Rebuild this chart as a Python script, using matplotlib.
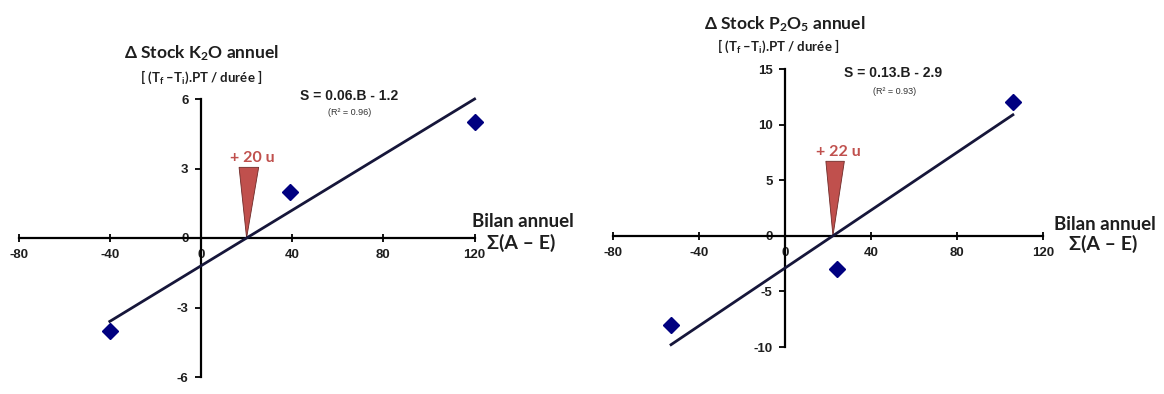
import matplotlib
matplotlib.use("Agg")
import matplotlib.pyplot as plt
from matplotlib.patches import Polygon

plt.rcParams['mathtext.fontset'] = 'custom'
plt.rcParams['mathtext.rm'] = 'Lato:bold'
plt.rcParams['mathtext.it'] = 'Lato:bold'
plt.rcParams['mathtext.bf'] = 'Lato:bold'

# K2O panel
k2o_bilan = [-40, 39, 120]
k2o_stock = [-4, 2, 5]
k2o_slope, k2o_intercept, k2o_r2 = 0.06, -1.2, 0.96
k2o_xticks = [-80, -40, 0, 40, 80, 120]
k2o_yticks = [-6, -3, 0, 3, 6]

# P2O5 panel
p2o5_bilan = [-53, 24, 106]
p2o5_stock = [-8, -3, 12]
p2o5_slope, p2o5_intercept, p2o5_r2 = 0.13, -2.9, 0.93
p2o5_xticks = [-80, -40, 0, 40, 80, 120]
p2o5_yticks = [-10, -5, 0, 5, 10, 15]

TXT = '#1e1e1e'
RED = '#c0504d'
NAVY = '#000080'
LINE = '#16163a'
TICKFONT = dict(family='Liberation Sans', weight='bold', size=9.5)


def draw_panel(ax, bilan, stock, slope, intercept, r2, xticks, yticks,
               title, pos):
    ax.set_xlim(xticks[0], xticks[-1])
    ax.set_ylim(yticks[0], yticks[-1])
    for s in ('top', 'right'):
        ax.spines[s].set_visible(False)
    ax.spines['left'].set_position(('data', 0))
    ax.spines['bottom'].set_position(('data', 0))
    for s in ('left', 'bottom'):
        ax.spines[s].set_linewidth(1.6)
    ax.set_xticks(xticks)
    ax.set_yticks(yticks)
    ax.set_xticklabels([str(v) for v in xticks], fontdict=TICKFONT, color=TXT)
    ax.set_yticklabels([str(v) for v in yticks], fontdict=TICKFONT, color=TXT)
    ax.tick_params(axis='x', direction='inout', length=6, width=1.3, pad=5)
    ax.tick_params(axis='y', direction='out', length=4, width=1.3, pad=5)
    ax.patch.set_alpha(0)

    # regression line over the range of the points
    x0, x1 = min(bilan), max(bilan)
    ax.plot([x0, x1], [slope * x0 + intercept, slope * x1 + intercept],
            color=LINE, lw=2.0, zorder=3, clip_on=False)
    ax.plot(bilan, stock, 'D', color=NAVY, ms=8, zorder=4, clip_on=False)

    # wedge pointing at the x intercept
    x_int = -intercept / slope
    ytop = pos['wedge_top']
    wedge = Polygon([[x_int - 3.3, ytop], [x_int + 5.3, ytop], [x_int, 0]],
                    closed=True, facecolor=RED, edgecolor='#6e2a28', lw=0.6,
                    zorder=2)
    ax.add_patch(wedge)
    ax.text(x_int + 2.5, ytop + 0.12 * (yticks[-1] - yticks[0]) / 12,
            '+ %d u' % round(x_int), color=RED, ha='center', va='bottom',
            fontsize=11.5, family='Lato', weight='bold')

    ax.text(pos['eq'][0], pos['eq'][1],
            'S = %.2f.B - %.1f' % (slope, -intercept), ha='center',
            va='center', fontsize=10, family='Liberation Sans', weight='bold',
            color=TXT)
    ax.text(pos['r2'][0], pos['r2'][1], '(R² = %.2f)' % r2, ha='center',
            va='center', fontsize=6.5, family='Liberation Sans',
            color='#333333')

    ax.text(pos['title'][0], pos['title'][1], title, ha='center', va='center',
            fontsize=12.5, family=['Lato', 'DejaVu Sans'], weight='bold',
            color=TXT, clip_on=False)
    ax.text(pos['sub'][0], pos['sub'][1],
            r'[ (T$_\mathrm{f}$ –T$_\mathrm{i}$).PT / durée ]', ha='center',
            va='center', fontsize=9.5, family='Lato', weight='bold',
            color=TXT, clip_on=False)
    ax.text(pos['bilan'][0], pos['bilan'][1], 'Bilan annuel', ha='center',
            va='center', fontsize=13.5, family='Lato', weight='bold',
            color=TXT, clip_on=False)
    ax.text(pos['sigma'][0], pos['sigma'][1], 'Σ(A – E)', ha='center',
            va='center', fontsize=14, family=['Lato', 'DejaVu Sans'],
            weight='bold', color=TXT, clip_on=False)


fig = plt.figure(figsize=(11.64, 3.94), dpi=100)
W, H = 1164.0, 394.0

ax1 = fig.add_axes([18.6 / W, (H - 377) / H, 456 / W, 278 / H])
draw_panel(ax1, k2o_bilan, k2o_stock, k2o_slope, k2o_intercept, k2o_r2,
           k2o_xticks, k2o_yticks, r'Δ Stock K$_2$O annuel',
           dict(wedge_top=3.05, eq=(65, 6.12), r2=(65, 5.42), title=(0, 8.0),
                sub=(0, 6.95), bilan=(141, 0.73), sigma=(140.5, -0.2)))

ax2 = fig.add_axes([613 / W, (H - 347) / H, 430 / W, 278 / H])
draw_panel(ax2, p2o5_bilan, p2o5_stock, p2o5_slope, p2o5_intercept, p2o5_r2,
           p2o5_xticks, p2o5_yticks, r'Δ Stock P$_2$O$_5$ annuel',
           dict(wedge_top=6.7, eq=(50.3, 14.65), r2=(51, 13.0), title=(0, 19.0),
                sub=(-3, 17.0), bilan=(148.6, 1.0), sigma=(148, -0.7)))

fig.savefig('out.png', dpi=100)
